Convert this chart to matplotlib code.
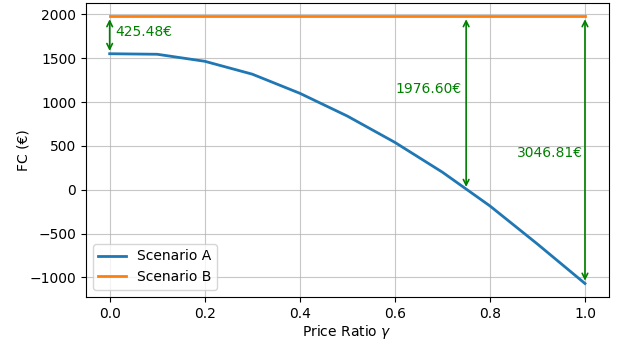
import matplotlib
matplotlib.use("Agg")
import matplotlib.pyplot as plt
import numpy as np

gamma = [0.0, 0.1, 0.2, 0.3, 0.4, 0.5, 0.6, 0.7, 0.8, 0.9, 1.0]
scenario_a = [1551.12, 1545, 1465, 1318, 1100, 840, 540, 200, -185, -620, -1070.21]
scenario_b_value = 1976.60
scenario_b = [scenario_b_value] * len(gamma)

arrow_x = [0.0, 0.75, 1.0]
arrow_low = [1551.12, 0.0, -1070.21]
labels = ["425.48€", "1976.60€", "3046.81€"]
label_pos = [(0.012, 1800, "left"), (0.74, 1150, "right"), (0.995, 420, "right")]

fig = plt.figure(figsize=(6.18, 3.42), dpi=100)
ax = fig.add_axes([0.139, 0.132, 0.846, 0.859])
ax.plot(gamma, scenario_a, lw=2, color="#1f77b4", label="Scenario A")
ax.plot(gamma, scenario_b, lw=2, color="#ff7f0e", label="Scenario B")
ax.grid(True, color="#b0b0b0", lw=0.8, alpha=0.7)

for x, lo, lab, (tx, ty, ha) in zip(arrow_x, arrow_low, labels, label_pos):
    ax.annotate("", xy=(x, lo), xytext=(x, scenario_b_value),
                arrowprops=dict(arrowstyle="<->", color="green", lw=1.2))
    ax.text(tx, ty, lab, color="green", ha=ha, va="center", fontsize=10)

ax.set_xlabel("Price Ratio $\\gamma$", labelpad=1.5)
ax.set_ylabel("FC (€)", labelpad=-1)
ax.legend(loc="lower left")
fig.savefig("out.png", dpi=100)
